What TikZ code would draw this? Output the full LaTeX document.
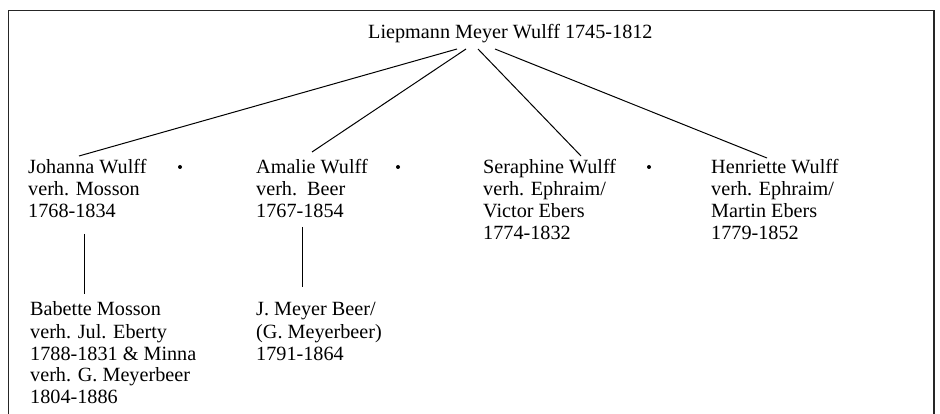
\documentclass[tikz,border=0pt]{standalone}
\usepackage{fontspec}
\setmainfont{Liberation Serif}
\newcommand{\lines}[1]{\begin{tabular}[t]{@{}l@{}}#1\end{tabular}}
\begin{document}
\begin{tikzpicture}[x=1pt,y=-1pt,
  person/.style={anchor=base west,inner sep=0pt,
    font=\fontsize{20.2}{22}\selectfont},
  link/.style={line width=1pt,black},
  frame/.style={line width=1.6pt,black!85},
  dot/.style={circle,fill=black,inner sep=0pt,minimum size=4pt}]
\useasboundingbox (0,0) rectangle (940,414);
\fill[white] (0,0) rectangle (940,414);
\draw[frame] (8.5,414) -- (8.5,10.5) -- (934,10.5) -- (934,414);

\node[person] (lmw) at (368,39) {Liepmann Meyer Wulff 1745-1812};

\node[person] (jw) at (28,174) {\lines{Johanna Wulff\\verh. Mosson\\1768-1834}};
\node[person] (aw) at (256,174) {\lines{Amalie Wulff\\verh.\ \ Beer\\1767-1854}};
\node[person] (sw) at (483,174) {\lines{Seraphine Wulff\\verh. Ephraim/\\Victor Ebers\\1774-1832}};
\node[person] (hw) at (711,174) {\lines{Henriette Wulff\\verh. Ephraim/\\Martin Ebers\\1779-1852}};

\node[person] (bm) at (30,316) {\lines{Babette Mosson\\verh. Jul. Eberty\\1788-1831 \& Minna\\verh. G. Meyerbeer\\1804-1886}};
\node[person] (jmb) at (256,316) {\lines{J. Meyer Beer/\\(G. Meyerbeer)\\1791-1864}};

\node[dot] (d1) at (180,167) {};
\node[dot] (d2) at (398,167) {};
\node[dot] (d3) at (649,167) {};

% connector end points
\coordinate (t1) at (457,49);
\coordinate (t2) at (466,49);
\coordinate (t3) at (478,49);
\coordinate (t4) at (495,49);
\coordinate (jwtop) at (79,156);
\coordinate (awtop) at (312,152);
\coordinate (swtop) at (581,156);
\coordinate (hwtop) at (767,158);
\coordinate (jwbot) at (84,234);
\coordinate (bmtop) at (84,294);
\coordinate (awbot) at (302,227);
\coordinate (jmbtop) at (302,287);

\draw[link] (t1) -- (jwtop);
\draw[link] (t2) -- (awtop);
\draw[link] (t3) -- (swtop);
\draw[link] (t4) -- (hwtop);
\draw[link] (jwbot) -- (bmtop);
\draw[link] (awbot) -- (jmbtop);
\end{tikzpicture}
\end{document}
